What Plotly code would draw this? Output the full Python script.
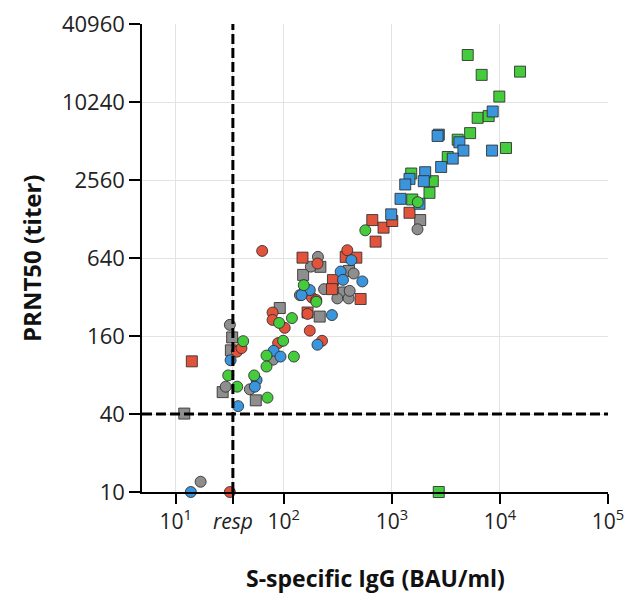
import plotly.graph_objects as go
import math

# ---- data (S-specific IgG in BAU/ml, PRNT50 titer) ----
resp = 33.8

red_sq_x = [659, 838, 1009, 1456, 707, 149, 374, 469, 285, 279, 514, 166, 14.1]
red_sq_y = [1256, 1097, 1235, 1430, 856, 644, 653, 644, 432, 368, 309, 243, 102]

red_ci_x = [63.1, 387, 205, 182, 200, 78.7, 78.7, 102, 174, 226, 166, 88.6, 36.8, 40.6, 31.7]
red_ci_y = [726, 735, 580, 317, 303, 243, 213, 185, 176, 147, 237, 141, 121, 129, 10]

gray_sq_x = [1829, 218, 151, 91.8, 215, 360, 401, 33.3, 32.4, 27.2, 55.1, 12.0]
gray_sq_y = [1256, 547, 474, 263, 226, 347, 509, 156, 124, 59, 51, 40.3]

gray_ci_x = [1727, 207, 178, 141, 236, 313, 398, 407, 443, 31.7, 29.0, 48.5, 79.6, 17.0]
gray_ci_y = [1066, 653, 549, 331, 368, 312, 312, 357, 486, 195, 65, 62, 105, 12]

blue_sq_x = [8570, 2720, 2650, 4217, 4592, 8453, 3659, 2858, 2034, 1456, 1330, 1974, 1203, 1803, 986]
blue_sq_y = [8650, 5730, 5600, 5002, 4318, 4318, 3746, 3229, 2940, 2611, 2364, 2506, 1832, 1678, 1390]

blue_ci_x = [422, 336, 353, 533, 174, 146, 279, 205, 80.5, 93.3, 32.2, 56.0, 54.0, 37.8, 13.8]
blue_ci_y = [616, 503, 434, 422, 362, 331, 232, 137, 123, 111, 104, 73, 65, 46, 10]

green_sq_x = [5035, 6776, 15350, 9870, 6223, 7870, 5297, 4067, 11380, 3289, 1511, 2392, 2229, 1543, 2716]
green_sq_y = [23610, 16580, 17570, 11280, 7730, 7970, 5890, 5240, 4520, 3853, 2873, 2506, 2038, 1811, 10]

green_ci_x = [1738, 568, 153, 200, 119, 90.5, 42.1, 98.6, 69.2, 124, 69.2, 30.6, 37.1, 53.2, 70.7]
green_ci_y = [1727, 1047, 395, 294, 220, 202, 146, 147, 113, 111, 93, 79.4, 65, 79.4, 53.5]

y_ticks = [10, 40, 160, 640, 2560, 10240, 40960]
x_ticks = [10, resp, 100, 1000, 10000, 100000]
x_ticktext = ["10<sup>1</sup>", "<i>resp</i>", "10<sup>2</sup>", "10<sup>3</sup>",
              "10<sup>4</sup>", "10<sup>5</sup>"]

# ---- styles ----
RED = "#e2533b"
GRAY = "#8e8e8e"
BLUE = "#3a95dc"
GREEN = "#45cc3c"
EDGE = "rgba(45,45,45,0.85)"
FONT = "Open Sans"

fig = go.Figure()

def add(xs, ys, color, symbol):
    fig.add_trace(go.Scatter(
        x=xs, y=ys, mode="markers", cliponaxis=False, showlegend=False,
        marker=dict(color=color, symbol=symbol, size=11,
                    line=dict(color=EDGE, width=1))))

add(gray_sq_x, gray_sq_y, GRAY, "square")
add(gray_ci_x, gray_ci_y, GRAY, "circle")
add(red_sq_x, red_sq_y, RED, "square")
add(red_ci_x, red_ci_y, RED, "circle")
add(green_sq_x, green_sq_y, GREEN, "square")
add(blue_sq_x, blue_sq_y, BLUE, "square")
add(blue_ci_x, blue_ci_y, BLUE, "circle")
add(green_ci_x, green_ci_y, GREEN, "circle")

x_lo = 10 ** 0.688
x_hi = 1e5
y_lo = y_ticks[0]
y_hi = y_ticks[-1]

# threshold lines
fig.add_shape(type="line", xref="x", yref="y", x0=resp, x1=resp, y0=y_lo, y1=y_hi,
              line=dict(color="black", width=3, dash="10px,4px"), layer="above")
fig.add_shape(type="line", xref="x", yref="y", x0=x_lo, x1=x_hi, y0=40, y1=40,
              line=dict(color="black", width=3, dash="10px,4px"), layer="above")

fig.update_xaxes(
    type="log", range=[math.log10(x_lo), 5 + 1e-6], automargin=False,
    tickvals=x_ticks, ticktext=x_ticktext, ticklabeloverflow="allow",
    ticks="outside", ticklen=10, tickwidth=1.5, tickcolor="black",
    showline=True, linecolor="black", linewidth=1.5,
    showgrid=True, gridcolor="#e3e3e3", gridwidth=1,
    zeroline=False, tickfont=dict(family=FONT, size=21, color="#222"),
)
fig.update_yaxes(
    type="log", range=[math.log10(y_lo) - 1e-6, math.log10(y_hi) + 1e-6], automargin=False,
    tickvals=y_ticks, ticktext=[str(v) for v in y_ticks], ticklabeloverflow="allow",
    ticks="outside", ticklen=11, tickwidth=1.5, tickcolor="black",
    showline=True, linecolor="black", linewidth=1.5,
    showgrid=True, gridcolor="#e3e3e3", gridwidth=1,
    zeroline=False, tickfont=dict(family=FONT, size=22, color="#222"),
)

fig.add_annotation(text="<b>S-specific IgG (BAU/ml)</b>", xref="paper", yref="paper",
                   x=0.5, y=0, yshift=-86, showarrow=False, yanchor="middle",
                   font=dict(family=FONT, size=23, color="#111"))
fig.add_annotation(text="<b>PRNT50 (titer)</b>", xref="paper", yref="paper",
                   x=0, y=0.5, xshift=-111, showarrow=False, textangle=-90,
                   xanchor="center", font=dict(family=FONT, size=24, color="#111"))

fig.update_layout(
    width=633, height=591,
    margin=dict(l=134, r=33, t=16, b=107, autoexpand=False),
    paper_bgcolor="white", plot_bgcolor="white",
    showlegend=False,
)

fig.write_html("out.html")
